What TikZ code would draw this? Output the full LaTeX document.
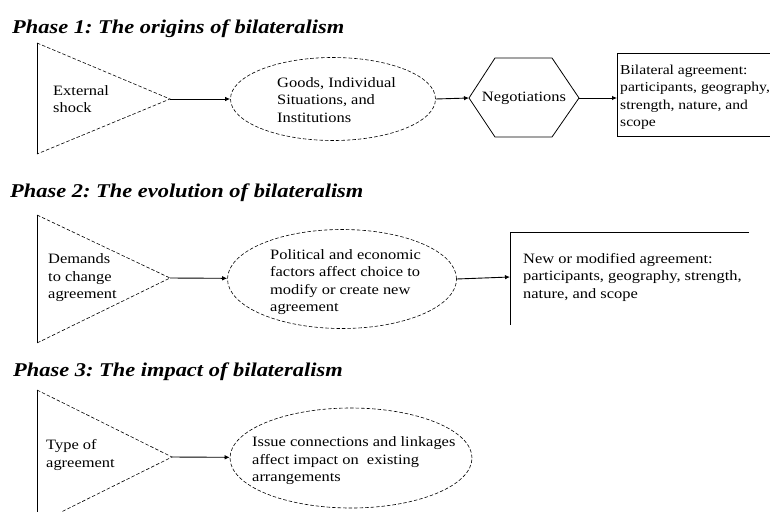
\documentclass[tikz,border=0pt]{standalone}
\usepackage{fontspec}
\setmainfont{Liberation Serif}[FakeStretch=1.15]
\usepackage{tikz}
\usetikzlibrary{arrows.meta,calc,positioning,shapes.geometric}
\frenchspacing
\tikzset{
  edgeline/.style={line width=0.8pt,black},
  dashline/.style={line width=0.6pt,black,dash pattern=on 3.5pt off 2pt},
  oval/.style={ellipse,draw,dashline,inner sep=0pt},
  flow/.style={-{Latex[length=5pt,width=4.5pt]},line width=0.9pt,black},
  bodytext/.style={align=left,anchor=west,inner sep=0pt,font=\fontsize{14.3}{17.5}\selectfont},
  phasetitle/.style={anchor=base west,inner sep=0pt,font=\fontsize{19.5}{22}\selectfont\bfseries\itshape}
}

\begin{document}
\begin{tikzpicture}[x=1pt,y=-1pt]
  \useasboundingbox (0,0) rectangle (770,511);
  \node[phasetitle] (title1) at (12,34) {Phase 1: The origins of bilateralism};
  \coordinate (shockTop) at (37,43);
  \coordinate (shockBot) at (37,154);
  \coordinate (shockTip) at (170,99);
  \draw[edgeline] (shockTop) -- (shockBot);
  \draw[dashline] (shockTop) -- (shockTip) -- (shockBot);
  \node[bodytext] (shock) at (53,99) {External\\shock};
  \node[oval,minimum width=205,minimum height=83] (goods) at (333,99) {};
  \node[bodytext] (goodstext) at (277,100) {Goods, Individual\\Situations, and\\Institutions};
  \coordinate (negW) at (469,98);
  \coordinate (negNW) at (495,58);
  \coordinate (negNE) at (552,58);
  \coordinate (negE) at (579,98);
  \coordinate (negSE) at (552,137);
  \coordinate (negSW) at (495,137);
  \draw[edgeline] (negW) -- (negNW) -- (negNE) -- (negE) -- (negSE) -- (negSW) -- cycle;
  \node[bodytext,anchor=center] (neg) at (524,98) {Negotiations};
  \coordinate (bilatNW) at (617,53);
  \coordinate (bilatSW) at (617,136);
  \coordinate (bilatW) at (617,98);
  \draw[edgeline] (790,53) -- (bilatNW) -- (bilatSW) -- (790,136);
  \node[bodytext,font=\fontsize{13.6}{17.5}\selectfont] (bilat) at (620,97) {Bilateral agreement:\\participants, geography,\\strength, nature, and\\scope};
  \draw[flow] (shockTip) -- (goods);
  \draw[flow] (goods.east) -- (negW);
  \draw[flow] (negE) -- (bilatW);

  \node[phasetitle] (title2) at (10,197) {Phase 2: The evolution of bilateralism};
  \coordinate (demTop) at (37,215);
  \coordinate (demBot) at (37,343);
  \coordinate (demTip) at (170,278);
  \draw[edgeline] (demTop) -- (demBot);
  \draw[dashline] (demTop) -- (demTip) -- (demBot);
  \node[bodytext] (demands) at (48,278) {Demands\\to change\\agreement};
  \node[oval,minimum width=229,minimum height=99] (factors) at (342,279) {};
  \node[bodytext] (factorstext) at (270,282) {Political and economic\\factors affect choice to\\modify or create new\\agreement};
  \coordinate (newNW) at (510,232);
  \coordinate (newSW) at (510,325);
  \coordinate (newNE) at (749,232);
  \coordinate (newW) at (510,277);
  \draw[edgeline] (newNE) -- (newNW) -- (newSW);
  \node[bodytext] (newagree) at (523,277) {New or modified agreement:\\participants, geography, strength,\\nature, and scope};
  \draw[flow] (demTip) -- (factors);
  \draw[flow] (factors.east) -- (newW);

  \node[phasetitle] (title3) at (13,376) {Phase 3: The impact of bilateralism};
  \coordinate (typeTop) at (37,390);
  \coordinate (typeBot) at (37,524);
  \coordinate (typeTip) at (172,457);
  \draw[edgeline] (typeTop) -- (typeBot);
  \draw[dashline] (typeTop) -- (typeTip) -- (typeBot);
  \node[bodytext] (type) at (46,455) {Type of\\agreement};
  \node[oval,minimum width=242,minimum height=100] (issues) at (351,458) {};
  \node[bodytext] (issuestext) at (252,461) {Issue connections and linkages\\affect impact on\ \ existing\\arrangements};
  \draw[flow] (typeTip) -- (issues);
\end{tikzpicture}
\end{document}
